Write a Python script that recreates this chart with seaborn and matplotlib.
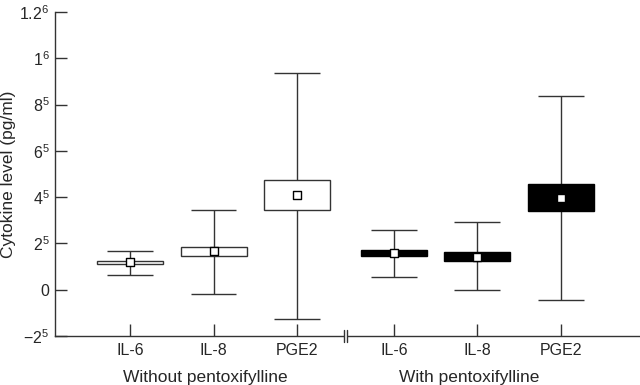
import matplotlib
matplotlib.use("Agg")
import matplotlib.pyplot as plt
import matplotlib.transforms as mtransforms
import seaborn as sns
import numpy as np
import pandas as pd

# ---- data ----
cytokines = ["IL-6", "IL-8", "PGE2"]
groups = ["Without pentoxifylline", "With pentoxifylline"]

without_low = [64.5e3, -17e3, -126e3]
without_q1 = [113e3, 146e3, 344e3]
without_q3 = [125e3, 186e3, 476e3]
without_mean = [118e3, 168e3, 410e3]
without_high = [168e3, 345e3, 938e3]

with_low = [57e3, -1e3, -46e3]
with_q1 = [146e3, 125e3, 341e3]
with_q3 = [172e3, 163e3, 455e3]
with_mean = [159e3, 143e3, 396e3]
with_high = [257e3, 291e3, 839e3]

ytick_values = [-2e5, 0, 2e5, 4e5, 6e5, 8e5, 1e6, 1.2e6]
ytick_labels = [r"$\mathregular{-2^{5}}$", "0", r"$\mathregular{2^{5}}$", r"$\mathregular{4^{5}}$",
                r"$\mathregular{6^{5}}$", r"$\mathregular{8^{5}}$", r"$\mathregular{1^{6}}$",
                r"$\mathregular{1.2^{6}}$"]

# ---- style ----
sns.set_style("ticks")
plt.rcParams["font.family"] = ["Liberation Sans", "DejaVu Sans"]
plt.rcParams["mathtext.fontset"] = "custom"
plt.rcParams["mathtext.rm"] = "Liberation Sans"
plt.rcParams["mathtext.it"] = "Liberation Sans:italic"
plt.rcParams["mathtext.bf"] = "Liberation Sans:bold"

line_col = "#333333"
lw = 1.0

fig = plt.figure(figsize=(6.4, 3.85), dpi=100)
ax = fig.add_axes([55 / 640, 49 / 385, 585 / 640, 324 / 385])

group_gap = 1.16
pos_without = np.arange(len(cytokines), dtype=float)
pos_with = pos_without + len(cytokines) - 1 + group_gap
positions = np.concatenate([pos_without, pos_with])

df = pd.DataFrame({
    "pos": positions,
    "cytokine": cytokines * 2,
    "group": [groups[0]] * 3 + [groups[1]] * 3,
    "low": without_low + with_low,
    "q1": without_q1 + with_q1,
    "q3": without_q3 + with_q3,
    "mean": without_mean + with_mean,
    "high": without_high + with_high,
})

box_w = 0.79
cap_w = 0.55
fills = {groups[0]: "white", groups[1]: "black"}

for _, r in df.iterrows():
    ax.vlines(r["pos"], r["low"], r["high"], color=line_col, lw=lw, zorder=1)
    ax.hlines([r["low"], r["high"]], r["pos"] - cap_w / 2, r["pos"] + cap_w / 2,
              color=line_col, lw=lw, zorder=1)
    ax.bar(r["pos"], r["q3"] - r["q1"], bottom=r["q1"], width=box_w,
           color=fills[r["group"]], edgecolor=line_col if r["group"] == groups[0] else "black",
           linewidth=lw, zorder=2)

sns.scatterplot(data=df, x="pos", y="mean", marker="s", s=36, color="white",
                edgecolor="black", linewidth=1.0, zorder=3, ax=ax, legend=False)

ax.set_xlim(pos_without[0] - 0.898, pos_with[-1] + 0.946)
ax.set_ylim(-2e5, 1.2e6)
ax.set_xticks(positions)
ax.set_xticklabels(cytokines * 2)
ax.set_yticks(ytick_values)
ax.set_yticklabels(ytick_labels)
ax.set_xlabel("")
ax.set_ylabel("Cytokine level (pg/ml)", fontsize=12.5, va="center")
ax.yaxis.set_label_coords(-0.080, 0.5)
ax.tick_params(axis="both", direction="in", length=8.5, width=lw, color=line_col,
               labelsize=11.5, pad=4)
ax.tick_params(axis="x", pad=5)

sns.despine(ax=ax)
for s in ["left", "bottom"]:
    ax.spines[s].set_linewidth(lw)
    ax.spines[s].set_color(line_col)

# axis break mark
brk = (pos_without[-1] + pos_with[0]) / 2 + 0.0
trans = mtransforms.blended_transform_factory(ax.transData, ax.transAxes)
d = 0.018
ax.add_patch(plt.Rectangle((brk - d, -0.01), 2 * d, 0.02, transform=trans,
                           facecolor="white", edgecolor="none", clip_on=False, zorder=5))
for xx in (brk - d, brk + d):
    ax.plot([xx, xx], [-0.018, 0.018], transform=trans, color=line_col, lw=lw,
            clip_on=False, zorder=6)

# group labels
for g, p in zip(groups, [pos_without, pos_with]):
    ax.text(p.mean() - 0.1, -0.128, g, transform=trans, ha="center", va="center",
            fontsize=12.5)

fig.savefig("out.png", dpi=100)
